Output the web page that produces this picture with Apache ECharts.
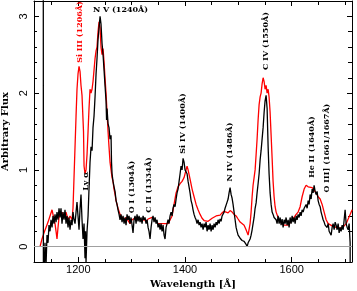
<!DOCTYPE html>
<html><head><meta charset="utf-8">
<script src="https://cdn.jsdelivr.net/npm/echarts@6/dist/echarts.min.js"></script>
<style>html,body{margin:0;padding:0;background:#fff}#c{width:357px;height:291px}</style>
</head><body><div id="c"></div>
<script>
// [wavelength (Å), arbitrary flux]
const blackSpectrum = [
[1134.4,3.5],[1134.6,-0.4],[1135.8,-0.35],[1137.6,0.05],[1139.5,-0.25],[1141.4,0.15],[1143.3,0.05],[1145.1,0.28],[1147.0,0.2],[1148.9,0.35],
[1150.8,0.25],[1152.6,0.4],[1154.5,0.3],[1156.4,0.42],[1158.3,0.32],[1160.1,0.45],[1162.0,0.35],[1163.9,0.5],[1165.8,0.38],[1167.6,0.5],
[1169.5,0.3],[1171.4,0.45],[1173.3,0.35],[1175.1,0.48],[1177.0,0.3],[1178.9,0.4],[1180.8,0.25],[1182.6,0.38],[1184.5,0.22],[1186.4,0.35],
[1188.3,0.28],[1190.1,0.45],[1192.0,0.35],[1193.9,0.3],[1195.8,0.45],[1197.6,0.58],[1199.5,0.4],[1201.4,0.22],[1203.3,0.5],[1205.1,0.68],
[1207.0,0.35],[1208.9,0.1],[1210.8,0.3],[1212.6,-0.15],[1213.6,0.2],[1214.5,-0.2],[1216.4,0.2],[1218.3,0.4],[1220.1,0.75],[1222.0,1.1],
[1223.9,1.3],[1225.8,1.25],[1227.6,1.55],[1229.5,1.7],[1231.4,1.95],[1233.3,2.25],[1235.1,2.45],[1237.0,2.7],[1238.9,2.85],[1240.8,3.0],
[1242.6,2.9],[1244.5,2.65],[1246.4,2.5],[1248.3,2.3],[1250.1,2.1],[1252.0,1.9],[1253.0,1.65],[1253.9,1.8],[1255.8,1.6],[1257.6,1.55],
[1259.5,1.4],[1261.4,1.45],[1262.3,1.1],[1263.3,0.95],[1265.1,0.85],[1267.0,0.78],[1268.9,0.72],[1270.8,0.6],[1272.6,0.55],[1274.5,0.48],
[1276.4,0.42],[1278.3,0.35],[1280.1,0.42],[1282.0,0.32],[1283.9,0.4],[1285.8,0.3],[1287.6,0.38],[1289.5,0.28],[1291.4,0.42],[1293.3,0.35],
[1295.1,0.4],[1297.0,0.3],[1298.9,0.38],[1300.8,0.28],[1302.6,0.18],[1304.5,0.35],[1306.4,0.4],[1308.3,0.3],[1310.1,0.42],[1312.0,0.33],
[1313.9,0.4],[1315.8,0.32],[1317.6,0.38],[1319.5,0.3],[1321.4,0.4],[1323.3,0.35],[1325.1,0.38],[1327.0,0.3],[1328.9,0.35],[1330.8,0.25],
[1332.6,0.2],[1334.5,0.1],[1336.4,0.25],[1338.3,0.35],[1340.1,0.4],[1342.0,0.32],[1343.9,0.38],[1345.8,0.3],[1347.6,0.35],[1349.5,0.25],
[1351.4,0.3],[1353.3,0.22],[1355.1,0.3],[1357.0,0.2],[1358.9,0.28],[1360.8,0.15],[1362.6,0.1],[1364.5,0.25],[1366.4,0.3],[1368.3,0.35],
[1370.1,0.3],[1372.0,0.4],[1373.9,0.45],[1375.8,0.4],[1377.6,0.5],[1379.5,0.55],[1381.4,0.52],[1383.3,0.62],[1385.1,0.7],[1387.0,0.75],
[1388.9,0.85],[1390.8,0.95],[1392.6,1.05],[1394.5,1.0],[1396.4,1.15],[1398.3,1.1],[1400.1,1.0],[1402.0,1.02],[1403.9,0.95],[1405.8,0.85],
[1407.6,0.78],[1409.5,0.7],[1411.4,0.6],[1413.3,0.55],[1415.1,0.48],[1417.0,0.42],[1418.9,0.38],[1420.8,0.35],[1422.6,0.3],[1424.5,0.35],
[1426.4,0.28],[1428.3,0.32],[1430.1,0.25],[1432.0,0.3],[1433.9,0.22],[1435.8,0.3],[1437.6,0.25],[1439.5,0.32],[1441.4,0.2],[1443.3,0.28],
[1445.1,0.22],[1447.0,0.3],[1448.9,0.2],[1450.8,0.28],[1452.6,0.22],[1454.5,0.3],[1456.4,0.25],[1458.3,0.32],[1460.1,0.28],[1462.0,0.35],
[1463.9,0.3],[1465.8,0.36],[1467.6,0.33],[1469.5,0.4],[1471.4,0.38],[1473.3,0.45],[1475.1,0.5],[1477.0,0.48],[1478.9,0.58],[1480.8,0.62],
[1482.6,0.7],[1484.5,0.77],[1486.4,0.68],[1488.3,0.63],[1490.1,0.55],[1492.0,0.45],[1493.9,0.35],[1495.8,0.25],[1497.6,0.2],[1499.5,0.15],
[1501.4,0.13],[1503.3,0.11],[1507.0,0.08],[1510.8,0.07],[1512.6,0.06],[1514.5,0.03],[1516.4,0.0],[1518.3,0.05],[1520.1,0.03],[1522.0,0.1],
[1523.9,0.15],[1525.8,0.22],[1527.6,0.3],[1529.5,0.38],[1531.4,0.5],[1533.3,0.57],[1535.1,0.7],[1537.0,0.82],[1538.9,0.95],[1540.8,1.13],
[1542.6,1.25],[1544.5,1.4],[1546.4,1.55],[1548.3,1.75],[1550.1,1.9],[1552.0,1.97],[1553.9,1.8],[1555.8,1.3],[1557.6,0.95],[1559.5,0.7],
[1561.4,0.55],[1563.3,0.45],[1565.1,0.42],[1567.0,0.38],[1568.9,0.4],[1570.8,0.35],[1572.6,0.3],[1574.5,0.4],[1576.4,0.3],[1578.3,0.38],
[1580.1,0.28],[1582.0,0.36],[1583.9,0.25],[1585.8,0.35],[1587.6,0.3],[1589.5,0.38],[1591.4,0.28],[1593.3,0.35],[1595.1,0.25],[1597.0,0.38],
[1598.9,0.3],[1600.8,0.4],[1602.6,0.32],[1604.5,0.38],[1606.4,0.3],[1608.3,0.4],[1610.1,0.35],[1612.0,0.42],[1613.9,0.38],[1615.8,0.45],
[1617.6,0.4],[1619.5,0.48],[1621.4,0.45],[1623.3,0.5],[1625.1,0.48],[1627.0,0.55],[1628.9,0.5],[1630.8,0.6],[1632.6,0.55],[1634.5,0.68],
[1636.4,0.62],[1638.3,0.75],[1640.1,0.7],[1642.0,0.8],[1643.9,0.72],[1645.8,0.68],[1647.6,0.72],[1649.5,0.6],[1651.4,0.55],[1653.3,0.52],
[1655.1,0.45],[1657.0,0.4],[1658.9,0.35],[1660.8,0.32],[1662.6,0.28],[1664.5,0.3],[1666.4,0.25],[1668.3,0.3],[1670.1,0.2],[1672.0,0.22],
[1673.9,0.15],[1675.8,0.25],[1677.6,0.3],[1679.5,0.22],[1681.4,0.32],[1683.3,0.28],[1685.1,0.22],[1687.0,0.3],[1688.9,0.18],[1690.8,0.25],
[1692.6,0.2],[1694.5,0.28],[1696.4,0.22],[1698.3,0.35],[1700.1,0.48],[1702.0,0.3],[1703.9,0.25],[1705.8,0.22],[1707.6,0.3],[1709.5,0.05],
[1709.6,-0.3]
];
const redSpectrum = [
[1128.3,0.0],[1132.0,0.1],[1135.8,0.18],[1139.5,0.25],[1143.3,0.32],[1147.0,0.4],[1150.8,0.48],[1152.6,0.42],[1154.5,0.35],[1156.4,0.3],
[1158.3,0.2],[1160.1,0.1],[1162.0,0.25],[1163.9,0.38],[1165.8,0.42],[1169.5,0.45],[1171.4,0.38],[1173.3,0.42],[1177.0,0.45],[1180.8,0.35],
[1184.5,0.4],[1188.3,0.35],[1190.1,0.5],[1192.0,0.9],[1193.9,1.3],[1195.8,1.7],[1197.6,2.05],[1199.5,2.25],[1201.4,2.35],[1203.3,2.28],
[1205.1,2.1],[1207.0,1.97],[1208.9,1.95],[1209.8,1.5],[1210.8,1.05],[1212.6,0.95],[1214.5,1.0],[1216.4,1.2],[1218.3,1.5],[1220.1,1.8],
[1222.0,2.05],[1223.9,2.0],[1225.8,2.05],[1227.6,2.15],[1229.5,2.3],[1231.4,2.45],[1233.3,2.55],[1235.1,2.6],[1237.0,2.8],[1238.9,2.93],
[1240.8,2.85],[1242.6,2.6],[1244.5,2.5],[1246.4,2.58],[1248.3,2.4],[1250.1,2.2],[1252.0,2.0],[1253.9,1.75],[1255.8,1.5],[1257.6,1.3],
[1259.5,1.1],[1261.4,1.0],[1263.3,0.9],[1265.1,0.85],[1267.0,0.75],[1268.9,0.68],[1270.8,0.6],[1272.6,0.55],[1274.5,0.5],[1278.3,0.42],
[1282.0,0.38],[1285.8,0.35],[1289.5,0.38],[1293.3,0.34],[1297.0,0.3],[1300.8,0.35],[1304.5,0.33],[1308.3,0.38],[1312.0,0.35],[1315.8,0.37],
[1319.5,0.33],[1323.3,0.36],[1327.0,0.32],[1330.8,0.36],[1334.5,0.34],[1338.3,0.38],[1342.0,0.35],[1345.8,0.33],[1349.5,0.3],[1353.3,0.3],
[1357.0,0.28],[1360.8,0.3],[1364.5,0.28],[1368.3,0.3],[1372.0,0.32],[1375.8,0.4],[1379.5,0.55],[1383.3,0.7],[1387.0,0.78],[1390.8,0.82],
[1394.5,0.85],[1398.3,0.9],[1402.0,1.0],[1403.9,1.05],[1405.8,1.0],[1409.5,0.88],[1413.3,0.75],[1417.0,0.65],[1420.8,0.55],[1424.5,0.48],
[1428.3,0.42],[1432.0,0.37],[1435.8,0.34],[1439.5,0.32],[1443.3,0.33],[1447.0,0.35],[1450.8,0.37],[1454.5,0.38],[1458.3,0.4],[1462.0,0.42],
[1465.8,0.41],[1469.5,0.44],[1473.3,0.46],[1477.0,0.46],[1480.8,0.44],[1484.5,0.47],[1488.3,0.45],[1492.0,0.42],[1495.8,0.4],[1499.5,0.36],
[1503.3,0.32],[1507.0,0.33],[1510.8,0.28],[1514.5,0.22],[1518.3,0.15],[1522.0,0.3],[1523.9,0.45],[1525.8,0.65],[1527.6,0.8],[1529.5,0.9],
[1531.4,1.0],[1533.3,1.2],[1535.1,1.4],[1537.0,1.65],[1538.9,1.85],[1540.8,1.95],[1542.6,2.0],[1544.5,2.12],[1546.4,2.2],[1548.3,2.15],
[1550.1,2.05],[1552.0,2.1],[1553.9,2.0],[1555.8,2.05],[1557.6,1.95],[1559.5,1.75],[1561.4,1.45],[1563.3,1.15],[1565.1,0.85],[1567.0,0.65],
[1568.9,0.52],[1570.8,0.45],[1574.5,0.38],[1578.3,0.33],[1582.0,0.3],[1585.8,0.28],[1589.5,0.27],[1593.3,0.28],[1597.0,0.3],[1600.8,0.35],
[1604.5,0.38],[1608.3,0.42],[1612.0,0.45],[1615.8,0.52],[1619.5,0.65],[1623.3,0.75],[1627.0,0.8],[1628.9,0.82],[1630.8,0.78],[1634.5,0.8],
[1638.3,0.77],[1642.0,0.75],[1645.8,0.7],[1649.5,0.65],[1653.3,0.62],[1657.0,0.55],[1660.8,0.45],[1664.5,0.35],[1668.3,0.3],[1672.0,0.28],
[1675.8,0.27],[1679.5,0.26],[1683.3,0.25],[1687.0,0.25],[1690.8,0.24],[1694.5,0.25],[1698.3,0.27],[1702.0,0.3],[1705.8,0.36],[1709.5,0.42],
[1713.3,0.48]
];
const xMajorTicks = [1200, 1400, 1600];
const xMinorTicks = [1150, 1250, 1300, 1350, 1450, 1500, 1550, 1650, 1700];
const yMajorTicks = [0, 1, 2, 3];
const yMinorTicks = [0.2, 0.4, 0.6, 0.8, 1.2, 1.4, 1.6, 1.8, 2.2, 2.4, 2.6, 2.8];
const lineNames = ['Si III (1206Å)', 'N V (1240Å)', 'Ly α', 'O I (1304Å)', 'C II (1334Å)', 'Si IV (1400Å)',
                   'N IV (1486Å)', 'C IV (1550Å)', 'He II (1640Å)', 'O III] (1661/1667Å)'];

const X_MIN = 1117, X_MAX = 1713, Y_MIN = -0.2, Y_MAX = 3.2;
const labelPlacement = [
  {x: 79.5, y: 32, rot: true, color: '#ff0000'},
  {x: 120.5, y: 10, rot: false, color: '#000'},
  {x: 86, y: 181, rot: true, color: '#000'},
  {x: 131.5, y: 187, rot: true, color: '#000'},
  {x: 148.5, y: 185, rot: true, color: '#000'},
  {x: 183, y: 123.5, rot: true, color: '#000'},
  {x: 229.5, y: 152, rot: true, color: '#000'},
  {x: 265.7, y: 41, rot: true, color: '#000'},
  {x: 312, y: 147, rot: true, color: '#000'},
  {x: 326.7, y: 148, rot: true, color: '#000'}
];

function xAx(pos, ticks, len, line, label, extra) {
  return Object.assign({
    type: 'value', position: pos, min: X_MIN, max: X_MAX,
    axisLine: {show: line, onZero: false, lineStyle: {color: '#000', width: 1}},
    axisTick: {show: true, inside: true, length: len, customValues: ticks, lineStyle: {color: '#000', width: 1}},
    axisLabel: label ? {show: true, customValues: ticks, formatter: v => String(v), color: '#000', fontSize: 11, fontFamily: 'Liberation Sans', margin: 2} : {show: false},
    splitLine: {show: false}
  }, extra || {});
}
function yAx(pos, ticks, len, line, label, extra) {
  return Object.assign({
    type: 'value', position: pos, min: Y_MIN, max: Y_MAX,
    axisLine: {show: line, onZero: false, lineStyle: {color: '#000', width: 1}},
    axisTick: {show: true, inside: true, length: len, customValues: ticks, lineStyle: {color: '#000', width: 1}},
    axisLabel: label ? {show: true, customValues: ticks, formatter: v => String(v), rotate: 90, color: '#000', fontSize: 11, fontFamily: 'Liberation Sans', margin: 5} : {show: false},
    splitLine: {show: false}
  }, extra || {});
}

const chart = echarts.init(document.getElementById('c'), null, {renderer: 'canvas'});
const nameStyle = {color: '#000', fontSize: 10, fontFamily: 'DejaVu Serif', fontWeight: 'bold'};
chart.setOption({
  animation: false,
  backgroundColor: '#fff',
  grid: {left: 34, right: 5, top: 1, bottom: 29, containLabel: false, outerBoundsMode: 'none'},
  xAxis: [
    xAx('bottom', xMajorTicks, 5, true, true, {name: 'Wavelength [Å]', nameLocation: 'middle', nameGap: 14, nameTextStyle: nameStyle}),
    xAx('bottom', xMinorTicks, 3, false, false),
    xAx('top', xMajorTicks, 5, true, false),
    xAx('top', xMinorTicks, 4, false, false)
  ],
  yAxis: [
    yAx('left', yMajorTicks, 5, true, true, {name: 'Arbitrary Flux', nameLocation: 'middle', nameGap: 23, nameRotate: 90, nameTextStyle: nameStyle}),
    yAx('left', yMinorTicks, 3, false, false),
    yAx('right', yMajorTicks, 5, true, false),
    yAx('right', yMinorTicks, 4, false, false)
  ],
  series: [
    {
      type: 'line', xAxisIndex: 0, yAxisIndex: 0, data: redSpectrum, showSymbol: false, symbol: 'none',
      lineStyle: {color: '#ff0000', width: 1.3}, clip: true, z: 2,
      markLine: {silent: true, symbol: 'none', label: {show: false}, lineStyle: {color: '#a0a0a0', width: 1, type: 'solid'}, data: [{yAxis: 0}]}
    },
    {
      type: 'line', xAxisIndex: 0, yAxisIndex: 0, data: blackSpectrum, showSymbol: false, symbol: 'none',
      lineStyle: {color: '#000', width: 1.3}, clip: true, z: 3
    }
  ],
  graphic: lineNames.map((t, i) => {
    const p = labelPlacement[i];
    return {
      type: 'text', x: p.x, y: p.y, rotation: p.rot ? Math.PI / 2 : 0, z: 100,
      style: {text: t, fill: p.color, font: 'bold 8px "DejaVu Serif"', textAlign: 'center', textVerticalAlign: 'middle'}
    };
  })
});
</script>
</body></html>
